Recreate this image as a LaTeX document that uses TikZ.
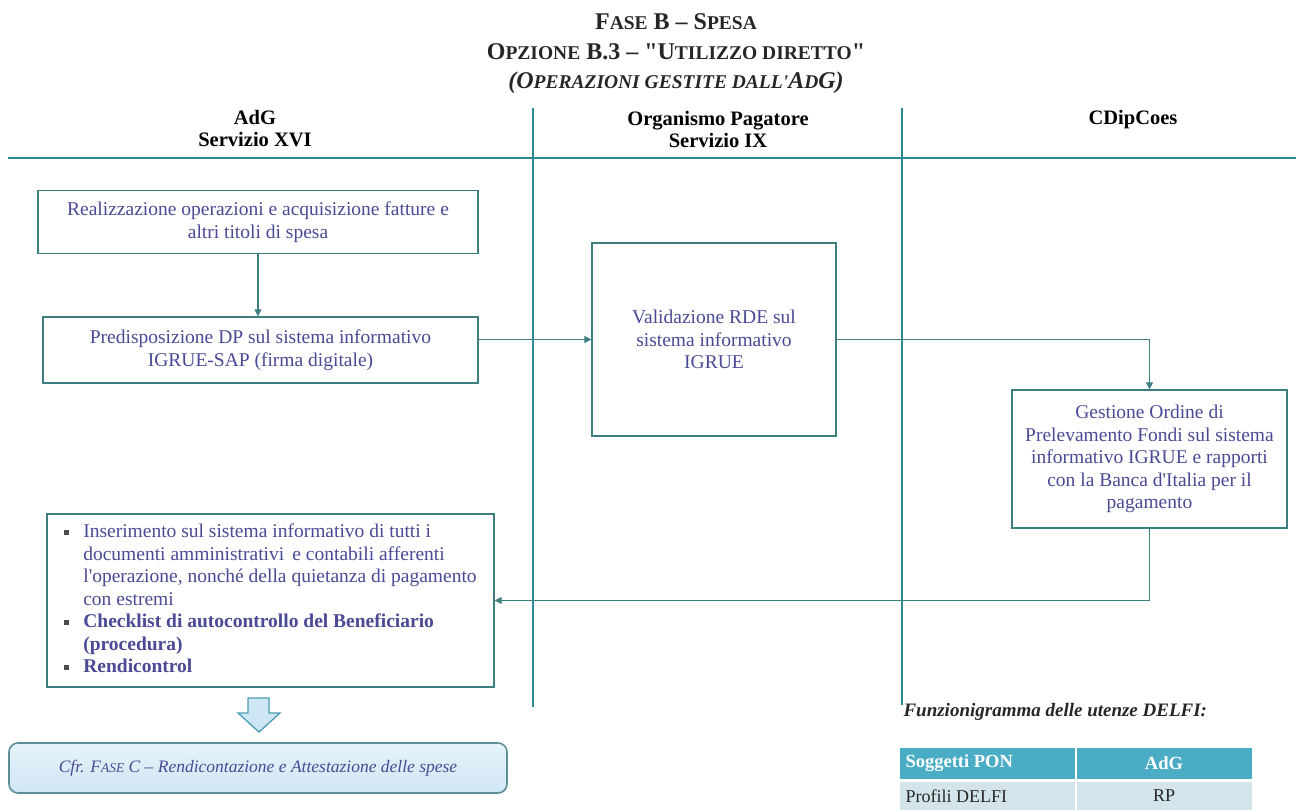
\documentclass[tikz,border=0pt]{standalone}
\usepackage{fontspec}
\setmainfont{Liberation Serif}[Ligatures=TeXOff]
\usetikzlibrary{arrows.meta}
\definecolor{laneC}{HTML}{2E8A92}
\definecolor{boxC}{HTML}{3D7F80}
\definecolor{txtC}{HTML}{4A4A96}
\definecolor{hdrC}{HTML}{4BACC6}
\definecolor{rowC}{HTML}{D3E4EA}
\definecolor{cfrTop}{HTML}{E6F3FA}
\definecolor{cfrBot}{HTML}{CFE6F3}
\definecolor{cfrLine}{HTML}{5E8E95}
\definecolor{arrFill}{HTML}{CFE7F4}
\definecolor{arrLine}{HTML}{4B9DB5}
% fake small capitals: uppercase letters set at a reduced size
\newcommand\petitcap[1]{{\fontsize{19.5}{19.5}\selectfont #1}}
\newcommand\petitcapit[1]{{\fontsize{13.5}{13.5}\selectfont #1}}
\newcommand\sqbullet{\raisebox{3pt}{\color{black!70}\rule{4.5pt}{4.5pt}}}

\begin{document}
\begin{tikzpicture}[x=1pt,y=-1pt,
  lane/.style={draw=laneC, line width=2.6pt},
  flowbox/.style={draw=boxC, line width=1.3pt, fill=white, text=txtC,
    font=\fontsize{19.5}{22.5}\selectfont, align=center, inner sep=4pt},
  conn/.style={draw=boxC, line width=1.1pt,
    -{Triangle[length=7pt,width=7pt]}},
  lanehead/.style={font=\bfseries\fontsize{20.5}{22}\selectfont, align=center, text=black},
  titleline/.style={font=\bfseries\fontsize{24}{24}\selectfont, text=black!85},
]
\useasboundingbox (0,0) rectangle (1296,810);

% ---- title
\node[titleline] (t1) at (676,22) {F\petitcap{ASE} B – S\petitcap{PESA}};
\node[titleline] (t2) at (676,52) {O\petitcap{PZIONE} B.3 – "U\petitcap{TILIZZO DIRETTO}"};
\node[titleline, font=\bfseries\itshape\fontsize{24}{24}\selectfont] (t3) at (676,83)
  {(O\petitcap{PERAZIONI GESTITE DALL'}A\petitcap{D}G)};

% ---- swimlane headers and separators
\node[lanehead] (h1) at (255,129) {AdG\\Servizio XVI};
\node[lanehead] (h2) at (718,129) {Organismo Pagatore\\Servizio IX};
\node[lanehead] (h3) at (1133,120) {CDipCoes};

\coordinate (hl0) at (8,158);
\coordinate (hl1) at (1296,158);
\coordinate (v1t) at (533,108);
\coordinate (v1b) at (533,707);
\coordinate (v2t) at (902,108);
\coordinate (v2b) at (902,705);
\draw[lane] (hl0) -- (hl1);
\draw[lane] (v1t) -- (v1b);
\draw[lane] (v2t) -- (v2b);

% ---- process boxes
\node[flowbox, minimum width=440pt, minimum height=63pt] (b1) at (258,222)
  {Realizzazione operazioni e acquisizione fatture e\\altri titoli di spesa};
\node[flowbox, minimum width=435pt, minimum height=66pt] (b2) at (260.5,350)
  {Predisposizione DP sul sistema informativo\\IGRUE-SAP (firma digitale)};
\node[flowbox, minimum width=244pt, minimum height=193pt] (b3) at (714,339.5)
  {Validazione RDE sul\\sistema informativo\\IGRUE};
\node[flowbox, minimum width=275pt, minimum height=138pt] (b4) at (1149.5,459)
  {Gestione Ordine di\\Prelevamento Fondi sul sistema\\informativo IGRUE e rapporti\\con la Banca d'Italia per il\\pagamento};
\node[flowbox, minimum width=447pt, minimum height=173pt, align=left] (b5) at (270.5,600.5)
  {\begin{tabular}{@{}p{19pt}@{}l@{}}
   \sqbullet & Inserimento sul sistema informativo di tutti i\\
    & documenti amministrativi\, e contabili afferenti\\
    & l'operazione, nonché della quietanza di pagamento\\
    & con estremi\\
   \sqbullet & \textbf{Checklist di autocontrollo del Beneficiario}\\
    & \textbf{(procedura)}\\
   \sqbullet & \textbf{Rendicontrol}
  \end{tabular}};

% ---- connectors
\draw[conn] (b1.south) -- (b1.south |- b2.north);
\draw[conn] (b2.east |- b3.west) -- (b3.west);
\draw[conn] (b3.east) -| (b4.north);
\draw[conn] (b4.south) |- (b5.east);

% ---- hand-over to phase C
\draw[draw=arrLine, line width=1.3pt, fill=arrFill, line join=miter]
  (248,698) -- (269,698) -- (269,713) -- (280,713) -- (259,732)
  -- (238,713) -- (248,713) -- cycle;
\node[draw=cfrLine, line width=1.6pt, rounded corners=9pt,
  top color=cfrTop, bottom color=cfrBot,
  minimum width=498pt, minimum height=50pt, text=txtC,
  font=\itshape\fontsize{17.5}{17.5}\selectfont] (cfr) at (258,768)
  {Cfr. F\petitcapit{ASE} C – Rendicontazione e Attestazione delle spese};

% ---- DELFI user profiles table
\node[anchor=west, font=\bfseries\itshape\fontsize{19}{19}\selectfont, text=black!85]
  (tabt) at (900,712) {Funzionigramma delle utenze DELFI:};
\fill[hdrC] (900,748) rectangle (1252,779);
\fill[rowC] (900,782) rectangle (1252,810);
\draw[white, line width=1.5pt] (1076,748) -- (1076,810);
\node[anchor=west, text=white, font=\bfseries\fontsize{18.5}{18.5}\selectfont] (c11) at (902,763.5) {Soggetti PON};
\node[text=white, font=\bfseries\fontsize{18.5}{18.5}\selectfont] (c12) at (1164,763.5) {AdG};
\node[anchor=west, text=black!85, font=\fontsize{18}{18}\selectfont] (c21) at (902,796) {Profili DELFI};
\node[text=black!85, font=\fontsize{18}{18}\selectfont] (c22) at (1164,796) {RP};
\end{tikzpicture}
\end{document}
